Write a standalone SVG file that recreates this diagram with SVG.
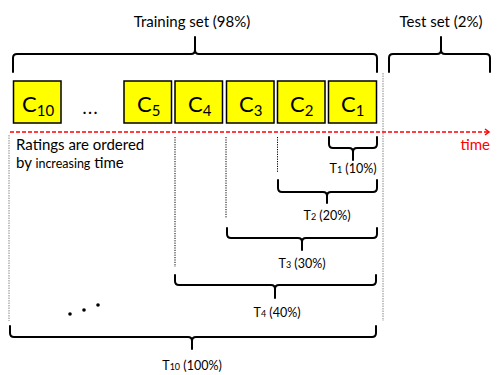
<svg xmlns="http://www.w3.org/2000/svg" width="500" height="375" viewBox="0 0 500 375">
<style>
.box{fill:#FFFF00;stroke:#000;stroke-width:1.5}
.cl{font-family:Lato,"Liberation Sans",sans-serif;font-size:22px;fill:#000}
.cs{font-size:15px}
.brace{fill:none;stroke:#000;stroke-width:2;stroke-linecap:round}
.txt{font-family:Lato,"Liberation Sans",sans-serif;font-size:15px;fill:#000}
.tl{font-family:Lato,"Liberation Sans",sans-serif;font-size:12.5px;fill:#000;text-anchor:middle}
.ts{font-size:9px}
.dot{stroke:#000;stroke-width:1;stroke-dasharray:1.2,1.2;fill:none}
.gdot{stroke:#888;stroke-width:1;stroke-dasharray:1.5,1;fill:none}
</style>
<defs>
<marker id="arr" markerWidth="8" markerHeight="8" refX="6" refY="4" orient="auto" markerUnits="userSpaceOnUse">
<path d="M2,1 L6,4 L2,7" fill="none" stroke="#FF0000" stroke-width="1.5"/>
</marker>
</defs>
<g id="guides">
<line class="gdot" x1="9" y1="135" x2="9" y2="321"/>
<line class="gdot" x1="383" y1="73" x2="383" y2="321"/>
<line class="dot" x1="175" y1="137" x2="175" y2="267"/>
<line class="dot" x1="226" y1="137" x2="226" y2="218"/>
<line class="dot" x1="277.5" y1="137" x2="277.5" y2="172"/>
</g>
<g id="connectors">
<line x1="10" y1="132" x2="489" y2="132" stroke="#FF0000" stroke-width="1.3" stroke-dasharray="4,2" marker-end="url(#arr)"/>
</g>
<g id="train-brace">
<path class="brace" d="M13,72 L13,58 Q13,54 17,54 L191,54 Q195,54 195,50 L195,37 M195,50 Q195,54 199,54 L373,54 Q377,54 377,58 L377,72"/>
<text class="txt" x="192" y="27" text-anchor="middle">Training set (98%)</text>
</g>
<g id="test-brace">
<path class="brace" d="M389,72 L389,58 Q389,54 393,54 L437,54 Q441,54 441,50 L441,37 M441,50 Q441,54 445,54 L486,54 Q490,54 490,58 L490,72"/>
<text class="txt" x="441" y="27" text-anchor="middle">Test set (2%)</text>
</g>
<g id="C10"><rect class="box" x="13.5" y="81" width="47.5" height="42"/><text class="cl" x="22" y="112">C<tspan class="cs" dy="4">10</tspan></text></g>
<g id="ellipsis"><text class="txt" x="91" y="114" text-anchor="middle" font-size="24" font-weight="bold" letter-spacing="2">...</text></g>
<g id="C5"><rect class="box" x="124" y="81" width="47.5" height="42"/><text class="cl" x="137" y="112">C<tspan class="cs" dy="4">5</tspan></text></g>
<g id="C4"><rect class="box" x="175" y="81" width="47.5" height="42"/><text class="cl" x="188" y="112">C<tspan class="cs" dy="4">4</tspan></text></g>
<g id="C3"><rect class="box" x="226.5" y="81" width="47.5" height="42"/><text class="cl" x="239" y="112">C<tspan class="cs" dy="4">3</tspan></text></g>
<g id="C2"><rect class="box" x="277.5" y="81" width="47.5" height="42"/><text class="cl" x="290" y="112">C<tspan class="cs" dy="4">2</tspan></text></g>
<g id="C1"><rect class="box" x="328.5" y="81" width="48" height="42"/><text class="cl" x="341" y="112">C<tspan class="cs" dy="4">1</tspan></text></g>
<g id="time-label"><text class="txt" x="490" y="150" text-anchor="end" style="fill:#FF0000">time</text></g>
<g id="note">
<text class="txt" x="16" y="150">Ratings are ordered</text>
<text class="txt" x="16" y="168">by <tspan font-size="12.5">increasing</tspan> time</text>
</g>
<g id="T1">
<path class="brace" d="M329,137 L329,144 Q329,148 333,148 L349,148 Q353,148 353,152 L353,160 M353,152 Q353,148 357,148 L373,148 Q377,148 377,144 L377,137"/>
<text class="tl" x="353" y="173">T<tspan class="ts">1</tspan> (10%)</text>
</g>
<g id="T2">
<path class="brace" d="M278,180 L278,188 Q278,192 282,192 L323,192 Q327,192 327,196 L327,203 M327,196 Q327,192 331,192 L373,192 Q377,192 377,188 L377,180"/>
<text class="tl" x="327" y="220">T<tspan class="ts">2</tspan> (20%)</text>
</g>
<g id="T3">
<path class="brace" d="M227,228 L227,234 Q227,238 231,238 L298,238 Q302,238 302,242 L302,250 M302,242 Q302,238 306,238 L373,238 Q377,238 377,234 L377,228"/>
<text class="tl" x="302" y="268">T<tspan class="ts">3</tspan> (30%)</text>
</g>
<g id="T4">
<path class="brace" d="M175,275 L175,281 Q175,285 179,285 L271,285 Q275,285 275,289 L275,298 M275,289 Q275,285 279,285 L372,285 Q376,285 376,281 L376,275"/>
<text class="tl" x="277" y="317">T<tspan class="ts">4</tspan> (40%)</text>
</g>
<g id="dots">
<circle cx="70" cy="314" r="1.8"/>
<circle cx="84" cy="310" r="1.8"/>
<circle cx="98" cy="305" r="1.8"/>
</g>
<g id="T10">
<path class="brace" d="M10,326 L10,333 Q10,337 14,337 L188,337 Q192,337 192,341 L192,349 M192,341 Q192,337 196,337 L372,337 Q376,337 376,333 L376,326"/>
<text class="tl" x="192" y="370">T<tspan class="ts">10</tspan> (100%)</text>
</g>
</svg>
